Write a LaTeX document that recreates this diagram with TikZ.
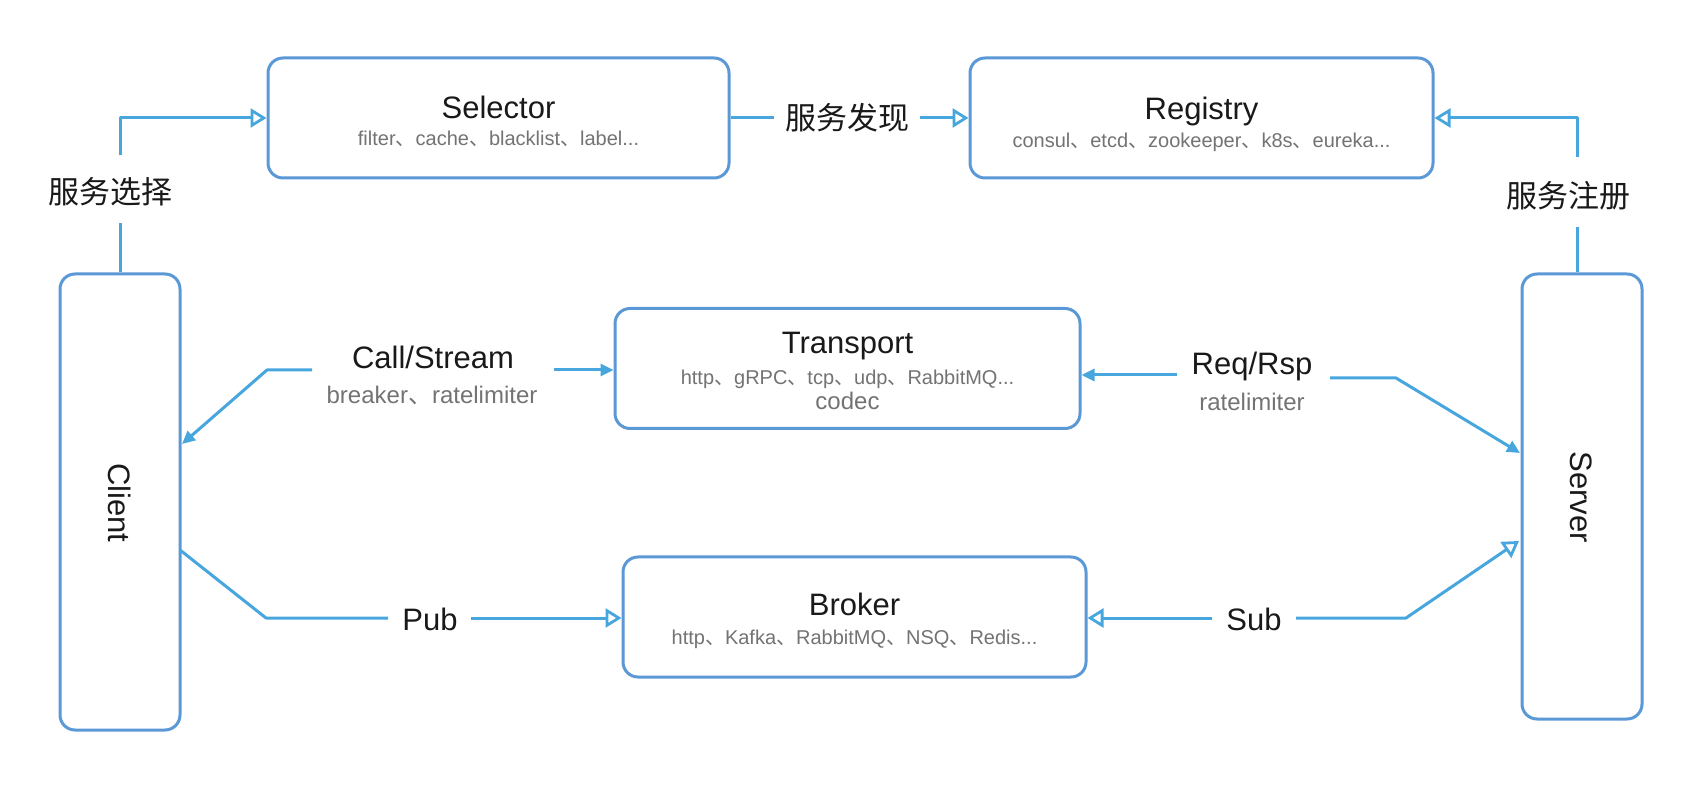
\documentclass[tikz,border=0pt]{standalone}
\usepackage{fontspec}
\setmainfont{Liberation Sans}
\newfontfamily\cjk{Noto Sans CJK SC}
\usetikzlibrary{arrows.meta}
\definecolor{lnc}{RGB}{72,166,222}
\definecolor{boxc}{RGB}{90,152,214}
\definecolor{subc}{RGB}{115,115,115}
\definecolor{ttc}{RGB}{25,25,25}
\newcommand\dn{{\cjk 、}}
\begin{document}
\begin{tikzpicture}[x=0.5pt,y=-0.5pt,
  box/.style={draw=boxc,line width=1.5pt,rounded corners=7.5pt,fill=white,inner sep=0pt},
  ttl/.style={font=\fontsize{15.5}{18}\selectfont,text=ttc,inner sep=0pt,text height=11.1pt,text depth=0pt},
  subt/.style={font=\fontsize{10}{12}\selectfont,text=subc,inner sep=0pt,text height=7.2pt,text depth=0pt},
  csub/.style={font=\fontsize{12}{14}\selectfont,text=subc,inner sep=0pt,text height=8.6pt,text depth=0pt},
  codc/.style={font=\fontsize{12}{14}\selectfont,text=subc,inner sep=0pt,text height=6.2pt,text depth=0pt},
  zh/.style={font=\cjk\fontsize{15.5}{18}\selectfont,text=ttc,inner sep=0pt,text height=11.8pt,text depth=0pt},
  conn/.style={draw=lnc,line width=1.5pt,line join=round},
  oa/.style={conn,-{Triangle[open,length=8pt,width=9.5pt,line width=1.4pt]}},
  fa/.style={conn,-{Triangle[length=6.5pt,width=6pt]}},
]
\path[use as bounding box] (0,0) rectangle (1702,790);

% boxes
\node[box,minimum width=230.5pt,minimum height=60pt] (sel) at (498.5,118) {};
\node[ttl] (selT) at (498.5,107) {Selector};
\node[subt] (selS) at (498.5,138) {filter\dn cache\dn blacklist\dn label...};

\node[box,minimum width=231.5pt,minimum height=60pt] (reg) at (1201.5,118) {};
\node[ttl] (regT) at (1201.5,108) {Registry};
\node[subt] (regS) at (1201.5,140) {consul\dn etcd\dn zookeeper\dn k8s\dn eureka...};

\node[box,minimum width=232.5pt,minimum height=60pt] (tra) at (847.5,368.5) {};
\node[ttl] (traT) at (847.5,342) {Transport};
\node[subt] (traS) at (847.5,377) {http\dn gRPC\dn tcp\dn udp\dn RabbitMQ...};
\node[codc] (traC) at (847.5,403) {codec};

\node[box,minimum width=231.5pt,minimum height=60pt] (bro) at (854.5,617) {};
\node[ttl] (broT) at (854.5,604) {Broker};
\node[subt] (broS) at (854.5,637) {http\dn Kafka\dn RabbitMQ\dn NSQ\dn Redis...};

\node[box,minimum width=60pt,minimum height=228pt] (cli) at (120,502) {};
\node[ttl,rotate=-90] (cliT) at (120,503) {Client};
\node[box,minimum width=60pt,minimum height=222.5pt] (srv) at (1582,496.5) {};
\node[ttl,rotate=-90] (srvT) at (1582,497) {Server};

% labels
\node[zh] (xz) at (110,192) {服务选择};
\node[zh] (fx) at (847,118) {服务发现};
\node[zh] (zc) at (1568,196) {服务注册};
\node[ttl] (cs) at (433,357) {Call/Stream};
\node[csub] (csS) at (432,395) {breaker\dn ratelimiter};
\node[ttl] (rr) at (1252,363) {Req/Rsp};
\node[csub] (rrS) at (1252,402) {ratelimiter};
\node[ttl] (pubL) at (430,619) {Pub};
\node[ttl] (subL) at (1254,619) {Sub};

% service selection
\coordinate (xzA) at (120,223);
\coordinate (xzB) at (120,155);
\coordinate (xzC) at (120,118);
\draw[conn] (cli.north) -- (xzA);
\draw[oa] (xzB) -- (xzC) -- (sel.west);

% service discovery
\draw[conn] (sel.east) -- ([xshift=-5.5pt]fx.west);
\draw[oa] ([xshift=5.5pt]fx.east) -- (reg.west);

% service registration
\coordinate (zcA) at (1577,227);
\coordinate (zcB) at (1577,157);
\coordinate (zcC) at (1577,118);
\draw[conn] (zcA |- srv.north) -- (zcA);
\draw[oa] (zcB) -- (zcC) -- (reg.east);

% call / stream
\coordinate (csA) at (312,370);
\coordinate (csBend) at (267,370);
\coordinate (csTip) at (182,444);
\coordinate (csB) at (554,370);
\draw[fa] (csA) -- (csBend) -- (csTip);
\draw[fa] (csB) -- (csB -| tra.west);

% req / rsp
\coordinate (rrA) at (1177,375);
\coordinate (rrB) at (1330,378);
\coordinate (rrBend) at (1396,378);
\coordinate (rrTip) at (1520,453);
\draw[fa] (rrA) -- (rrA -| tra.east);
\draw[fa] (rrB) -- (rrBend) -- (rrTip);

% pub
\coordinate (pA) at (180,550);
\coordinate (pBend) at (266,618);
\coordinate (pB) at (388,618);
\coordinate (pC) at (471,618);
\draw[conn] (pA) -- (pBend) -- (pB);
\draw[oa] (pC) -- (pC -| bro.west);

% sub
\coordinate (sA) at (1212,618);
\coordinate (sB) at (1296,618);
\coordinate (sBend) at (1406,618);
\coordinate (sTip) at (1519,541);
\draw[oa] (sA) -- (sA -| bro.east);
\draw[oa] (sB) -- (sBend) -- (sTip);
\end{tikzpicture}
\end{document}
